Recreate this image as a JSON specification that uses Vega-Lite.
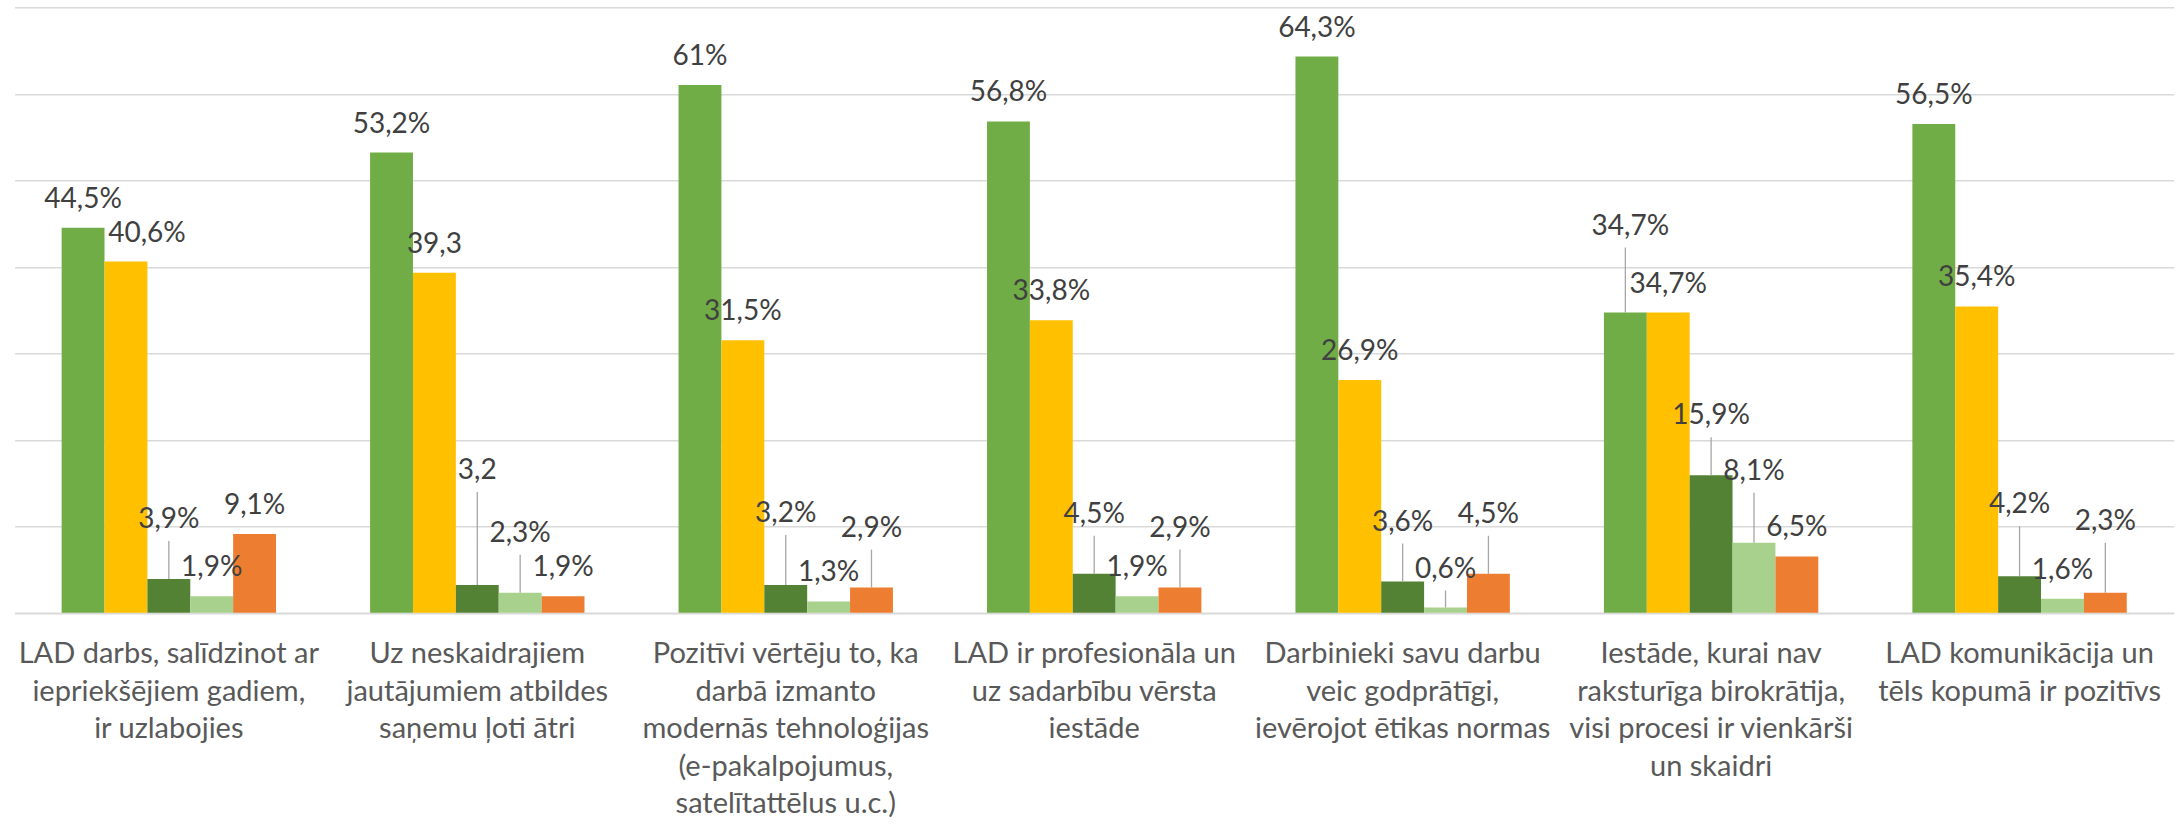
{
  "$schema": "https://vega.github.io/schema/vega-lite/v6.json",
  "autosize": {"type": "none"},
  "width": 2159.2,
  "height": 605.5,
  "padding": {"left": 14.6, "top": 7.2, "right": 9.2, "bottom": 212.3},
  "background": "#ffffff",
  "config": {"view": {"stroke": null}},
  "data": {"values": [
    {"q":1,"n":1,"cat":"LAD darbs, salīdzinot ar\niepriekšējiem gadiem,\nir uzlabojies","s":"Pilnībā piekrītu","v":44.5,"t":"44,5%"},
    {"q":1,"n":2,"cat":"LAD darbs, salīdzinot ar\niepriekšējiem gadiem,\nir uzlabojies","s":"Drīzāk piekrītu","v":40.6,"t":"40,6%"},
    {"q":1,"n":3,"cat":"LAD darbs, salīdzinot ar\niepriekšējiem gadiem,\nir uzlabojies","s":"Drīzāk nepiekrītu","v":3.9,"t":"3,9%"},
    {"q":1,"n":4,"cat":"LAD darbs, salīdzinot ar\niepriekšējiem gadiem,\nir uzlabojies","s":"Pilnībā nepiekrītu","v":1.9,"t":"1,9%"},
    {"q":1,"n":5,"cat":"LAD darbs, salīdzinot ar\niepriekšējiem gadiem,\nir uzlabojies","s":"Grūti pateikt","v":9.1,"t":"9,1%"},
    {"q":2,"n":1,"cat":"Uz neskaidrajiem\njautājumiem atbildes\nsaņemu ļoti ātri","s":"Pilnībā piekrītu","v":53.2,"t":"53,2%"},
    {"q":2,"n":2,"cat":"Uz neskaidrajiem\njautājumiem atbildes\nsaņemu ļoti ātri","s":"Drīzāk piekrītu","v":39.3,"t":"39,3"},
    {"q":2,"n":3,"cat":"Uz neskaidrajiem\njautājumiem atbildes\nsaņemu ļoti ātri","s":"Drīzāk nepiekrītu","v":3.2,"t":"3,2"},
    {"q":2,"n":4,"cat":"Uz neskaidrajiem\njautājumiem atbildes\nsaņemu ļoti ātri","s":"Pilnībā nepiekrītu","v":2.3,"t":"2,3%"},
    {"q":2,"n":5,"cat":"Uz neskaidrajiem\njautājumiem atbildes\nsaņemu ļoti ātri","s":"Grūti pateikt","v":1.9,"t":"1,9%"},
    {"q":3,"n":1,"cat":"Pozitīvi vērtēju to, ka\ndarbā izmanto\nmodernās tehnoloģijas\n(e-pakalpojumus,\nsatelītattēlus u.c.)","s":"Pilnībā piekrītu","v":61,"t":"61%"},
    {"q":3,"n":2,"cat":"Pozitīvi vērtēju to, ka\ndarbā izmanto\nmodernās tehnoloģijas\n(e-pakalpojumus,\nsatelītattēlus u.c.)","s":"Drīzāk piekrītu","v":31.5,"t":"31,5%"},
    {"q":3,"n":3,"cat":"Pozitīvi vērtēju to, ka\ndarbā izmanto\nmodernās tehnoloģijas\n(e-pakalpojumus,\nsatelītattēlus u.c.)","s":"Drīzāk nepiekrītu","v":3.2,"t":"3,2%"},
    {"q":3,"n":4,"cat":"Pozitīvi vērtēju to, ka\ndarbā izmanto\nmodernās tehnoloģijas\n(e-pakalpojumus,\nsatelītattēlus u.c.)","s":"Pilnībā nepiekrītu","v":1.3,"t":"1,3%"},
    {"q":3,"n":5,"cat":"Pozitīvi vērtēju to, ka\ndarbā izmanto\nmodernās tehnoloģijas\n(e-pakalpojumus,\nsatelītattēlus u.c.)","s":"Grūti pateikt","v":2.9,"t":"2,9%"},
    {"q":4,"n":1,"cat":"LAD ir profesionāla un\nuz sadarbību vērsta\niestāde","s":"Pilnībā piekrītu","v":56.8,"t":"56,8%"},
    {"q":4,"n":2,"cat":"LAD ir profesionāla un\nuz sadarbību vērsta\niestāde","s":"Drīzāk piekrītu","v":33.8,"t":"33,8%"},
    {"q":4,"n":3,"cat":"LAD ir profesionāla un\nuz sadarbību vērsta\niestāde","s":"Drīzāk nepiekrītu","v":4.5,"t":"4,5%"},
    {"q":4,"n":4,"cat":"LAD ir profesionāla un\nuz sadarbību vērsta\niestāde","s":"Pilnībā nepiekrītu","v":1.9,"t":"1,9%"},
    {"q":4,"n":5,"cat":"LAD ir profesionāla un\nuz sadarbību vērsta\niestāde","s":"Grūti pateikt","v":2.9,"t":"2,9%"},
    {"q":5,"n":1,"cat":"Darbinieki savu darbu\nveic godprātīgi,\nievērojot ētikas normas","s":"Pilnībā piekrītu","v":64.3,"t":"64,3%"},
    {"q":5,"n":2,"cat":"Darbinieki savu darbu\nveic godprātīgi,\nievērojot ētikas normas","s":"Drīzāk piekrītu","v":26.9,"t":"26,9%"},
    {"q":5,"n":3,"cat":"Darbinieki savu darbu\nveic godprātīgi,\nievērojot ētikas normas","s":"Drīzāk nepiekrītu","v":3.6,"t":"3,6%"},
    {"q":5,"n":4,"cat":"Darbinieki savu darbu\nveic godprātīgi,\nievērojot ētikas normas","s":"Pilnībā nepiekrītu","v":0.6,"t":"0,6%"},
    {"q":5,"n":5,"cat":"Darbinieki savu darbu\nveic godprātīgi,\nievērojot ētikas normas","s":"Grūti pateikt","v":4.5,"t":"4,5%"},
    {"q":6,"n":1,"cat":"Iestāde, kurai nav\nraksturīga birokrātija,\nvisi procesi ir vienkārši\nun skaidri","s":"Pilnībā piekrītu","v":34.7,"t":"34,7%"},
    {"q":6,"n":2,"cat":"Iestāde, kurai nav\nraksturīga birokrātija,\nvisi procesi ir vienkārši\nun skaidri","s":"Drīzāk piekrītu","v":34.7,"t":"34,7%"},
    {"q":6,"n":3,"cat":"Iestāde, kurai nav\nraksturīga birokrātija,\nvisi procesi ir vienkārši\nun skaidri","s":"Drīzāk nepiekrītu","v":15.9,"t":"15,9%"},
    {"q":6,"n":4,"cat":"Iestāde, kurai nav\nraksturīga birokrātija,\nvisi procesi ir vienkārši\nun skaidri","s":"Pilnībā nepiekrītu","v":8.1,"t":"8,1%"},
    {"q":6,"n":5,"cat":"Iestāde, kurai nav\nraksturīga birokrātija,\nvisi procesi ir vienkārši\nun skaidri","s":"Grūti pateikt","v":6.5,"t":"6,5%"},
    {"q":7,"n":1,"cat":"LAD komunikācija un\ntēls kopumā ir pozitīvs","s":"Pilnībā piekrītu","v":56.5,"t":"56,5%"},
    {"q":7,"n":2,"cat":"LAD komunikācija un\ntēls kopumā ir pozitīvs","s":"Drīzāk piekrītu","v":35.4,"t":"35,4%"},
    {"q":7,"n":3,"cat":"LAD komunikācija un\ntēls kopumā ir pozitīvs","s":"Drīzāk nepiekrītu","v":4.2,"t":"4,2%"},
    {"q":7,"n":4,"cat":"LAD komunikācija un\ntēls kopumā ir pozitīvs","s":"Pilnībā nepiekrītu","v":1.6,"t":"1,6%"},
    {"q":7,"n":5,"cat":"LAD komunikācija un\ntēls kopumā ir pozitīvs","s":"Grūti pateikt","v":2.3,"t":"2,3%"}
  ]},
  "encoding": {
    "x": {"field": "cat", "type": "nominal", "sort": null,
      "scale": {"paddingInner": 0.305, "paddingOuter": 0.1525},
      "axis": {"title": null, "ticks": false, "domain": true, "domainColor": "#D9D9D9", "domainWidth": 1.5,
        "labelAngle": 0, "labelFont": "Lato", "labelFontSize": 29, "labelColor": "#595959",
        "labelLineHeight": 37.5, "labelPadding": 27, "labelLimit": 0, "labelBaseline": "top",
        "labelExpr": "split(datum.label, '\\n')"}},
    "xOffset": {"field": "s", "type": "nominal",
      "sort": ["Pilnībā piekrītu", "Drīzāk piekrītu", "Drīzāk nepiekrītu", "Pilnībā nepiekrītu", "Grūti pateikt"],
      "scale": {"paddingInner": 0, "paddingOuter": 0}},
    "y": {"field": "v", "type": "quantitative",
      "scale": {"domain": [0, 70], "nice": false},
      "axis": {"title": null, "labels": false, "ticks": false, "domain": false, "grid": true,
        "gridColor": "#D9D9D9", "gridWidth": 1.5, "values": [0, 10, 20, 30, 40, 50, 60, 70]}}
  },
  "layer": [
    {"mark": {"type": "bar"},
      "encoding": {"color": {"field": "s", "type": "nominal", "legend": null,
        "scale": {"domain": ["Pilnībā piekrītu", "Drīzāk piekrītu", "Drīzāk nepiekrītu", "Pilnībā nepiekrītu", "Grūti pateikt"],
          "range": ["#70AD47", "#FFC000", "#548235", "#A9D18E", "#ED7D31"]}}}},
    {"transform": [{"filter": "indexof([13,43,53,63,55,24,35,45,33,73,75,64,54,61,23,12], datum.q*10+datum.n) < 0"}],
      "mark": {"type": "text", "font": "Lato", "fontSize": 28, "fill": "#404040", "baseline": "alphabetic", "align": "center", "dy": -20},
      "encoding": {"text": {"field": "t"}}},
    {"transform": [{"filter": "datum.q*10+datum.n == 12"}],
      "mark": {"type": "text", "font": "Lato", "fontSize": 28, "fill": "#404040", "baseline": "alphabetic", "align": "center", "dy": -20, "dx": 21},
      "encoding": {"text": {"field": "t"}}},
    {"transform": [{"filter": "indexof([13,43,53,63,55,24,35,45], datum.q*10+datum.n) >= 0"}],
      "mark": {"type": "text", "font": "Lato", "fontSize": 28, "fill": "#404040", "baseline": "alphabetic", "align": "center", "dy": -51},
      "encoding": {"text": {"field": "t"}}},
    {"transform": [{"filter": "indexof([13,43,53,63,55,24,35,45], datum.q*10+datum.n) >= 0"}],
      "mark": {"type": "rule", "color": "#A6A6A6", "strokeWidth": 1.3, "y2Offset": -38},
      "encoding": {"y2": {"field": "v"}}},
    {"transform": [{"filter": "indexof([33,73,75,64], datum.q*10+datum.n) >= 0"}],
      "mark": {"type": "text", "font": "Lato", "fontSize": 28, "fill": "#404040", "baseline": "alphabetic", "align": "center", "dy": -63},
      "encoding": {"text": {"field": "t"}}},
    {"transform": [{"filter": "indexof([33,73,75,64], datum.q*10+datum.n) >= 0"}],
      "mark": {"type": "rule", "color": "#A6A6A6", "strokeWidth": 1.3, "y2Offset": -50},
      "encoding": {"y2": {"field": "v"}}},
    {"transform": [{"filter": "datum.q*10+datum.n == 54"}],
      "mark": {"type": "text", "font": "Lato", "fontSize": 28, "fill": "#404040", "baseline": "alphabetic", "align": "center", "dy": -30},
      "encoding": {"text": {"field": "t"}}},
    {"transform": [{"filter": "datum.q*10+datum.n == 54"}],
      "mark": {"type": "rule", "color": "#A6A6A6", "strokeWidth": 1.3, "y2Offset": -17},
      "encoding": {"y2": {"field": "v"}}},
    {"transform": [{"filter": "datum.q*10+datum.n == 61"}],
      "mark": {"type": "text", "font": "Lato", "fontSize": 28, "fill": "#404040", "baseline": "alphabetic", "align": "center", "dy": -78, "dx": 5},
      "encoding": {"text": {"field": "t"}}},
    {"transform": [{"filter": "datum.q*10+datum.n == 61"}],
      "mark": {"type": "rule", "color": "#A6A6A6", "strokeWidth": 1.3, "y2Offset": -65},
      "encoding": {"y2": {"field": "v"}}},
    {"transform": [{"filter": "datum.q*10+datum.n == 23"}],
      "mark": {"type": "text", "font": "Lato", "fontSize": 28, "fill": "#404040", "baseline": "alphabetic", "align": "center", "dy": -106},
      "encoding": {"text": {"field": "t"}}},
    {"transform": [{"filter": "datum.q*10+datum.n == 23"}],
      "mark": {"type": "rule", "color": "#A6A6A6", "strokeWidth": 1.3, "y2Offset": -93},
      "encoding": {"y2": {"field": "v"}}}
  ]
}
